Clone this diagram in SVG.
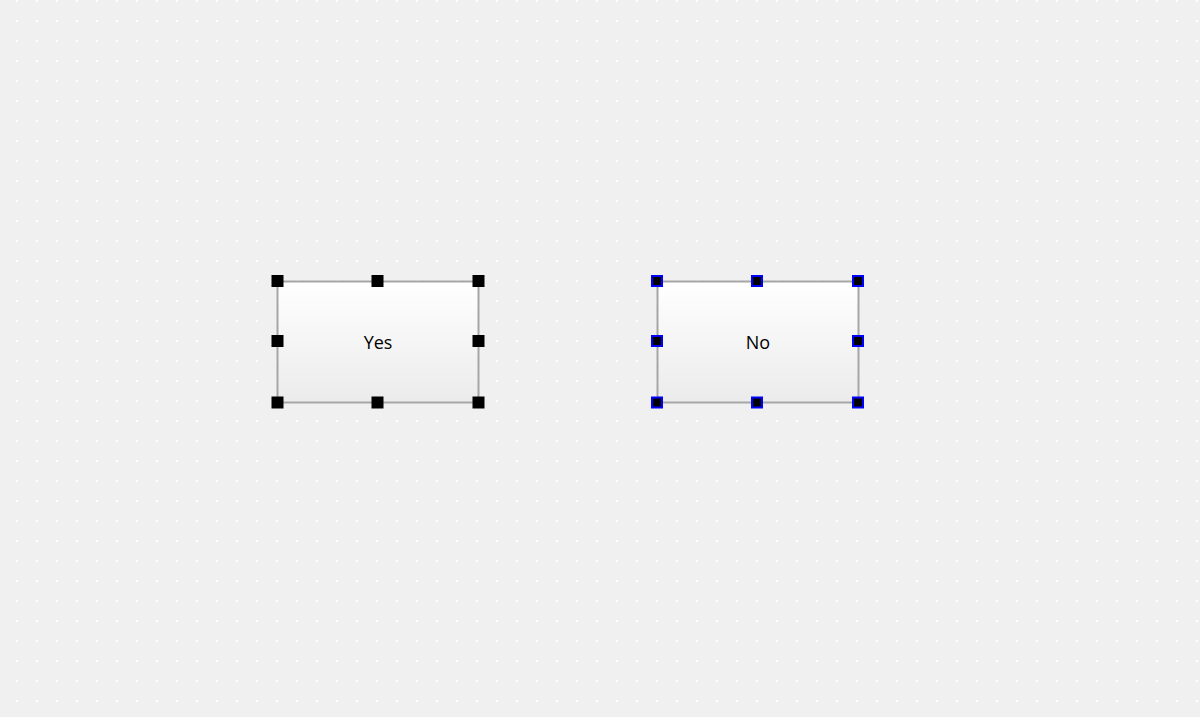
<svg xmlns="http://www.w3.org/2000/svg" width="1200" height="717" viewBox="0 0 1200 717">
<defs>
<pattern id="grid" x="16" y="0" width="20" height="20" patternUnits="userSpaceOnUse">
<rect x="0" y="0" width="2" height="2" fill="#ffffff"/>
</pattern>
<linearGradient id="boxfill" x1="0" y1="0" x2="0" y2="1">
<stop offset="0" stop-color="#ffffff"/>
<stop offset="1" stop-color="#ebebeb"/>
</linearGradient>
<style>
.box{fill:url(#boxfill);stroke:#a6a6a6;stroke-width:2}
.lbl{font-family:"Open Sans","Noto Sans","Liberation Sans",sans-serif;font-size:18px;fill:#000;text-anchor:middle;dominant-baseline:central}
.h{fill:#000}
.hb{fill:#000;stroke:#0000ff;stroke-width:2}
</style>
</defs>
<rect width="1200" height="717" fill="#f0f0f0"/>
<rect width="1200" height="717" fill="url(#grid)"/>
<g id="connectors"></g>
<g id="node-yes">
<rect class="box" x="277.5" y="281.5" width="201" height="121"/>
<text class="lbl" x="378" y="342">Yes</text>
<rect class="h" x="271.5" y="275" width="12" height="12"/>
<rect class="h" x="371.5" y="275" width="12" height="12"/>
<rect class="h" x="472.5" y="275" width="12" height="12"/>
<rect class="h" x="271.5" y="335" width="12" height="12"/>
<rect class="h" x="472.5" y="335" width="12" height="12"/>
<rect class="h" x="271.5" y="396.5" width="12" height="12"/>
<rect class="h" x="371.5" y="396.5" width="12" height="12"/>
<rect class="h" x="472.5" y="396.5" width="12" height="12"/>
</g>
<g id="node-no">
<rect class="box" x="657.5" y="281.5" width="201" height="121"/>
<text class="lbl" x="758" y="342">No</text>
<rect class="hb" x="652" y="276" width="10" height="10"/>
<rect class="hb" x="752" y="276" width="10" height="10"/>
<rect class="hb" x="853" y="276" width="10" height="10"/>
<rect class="hb" x="652" y="336" width="10" height="10"/>
<rect class="hb" x="853" y="336" width="10" height="10"/>
<rect class="hb" x="652" y="397.5" width="10" height="10"/>
<rect class="hb" x="752" y="397.5" width="10" height="10"/>
<rect class="hb" x="853" y="397.5" width="10" height="10"/>
</g>
</svg>
